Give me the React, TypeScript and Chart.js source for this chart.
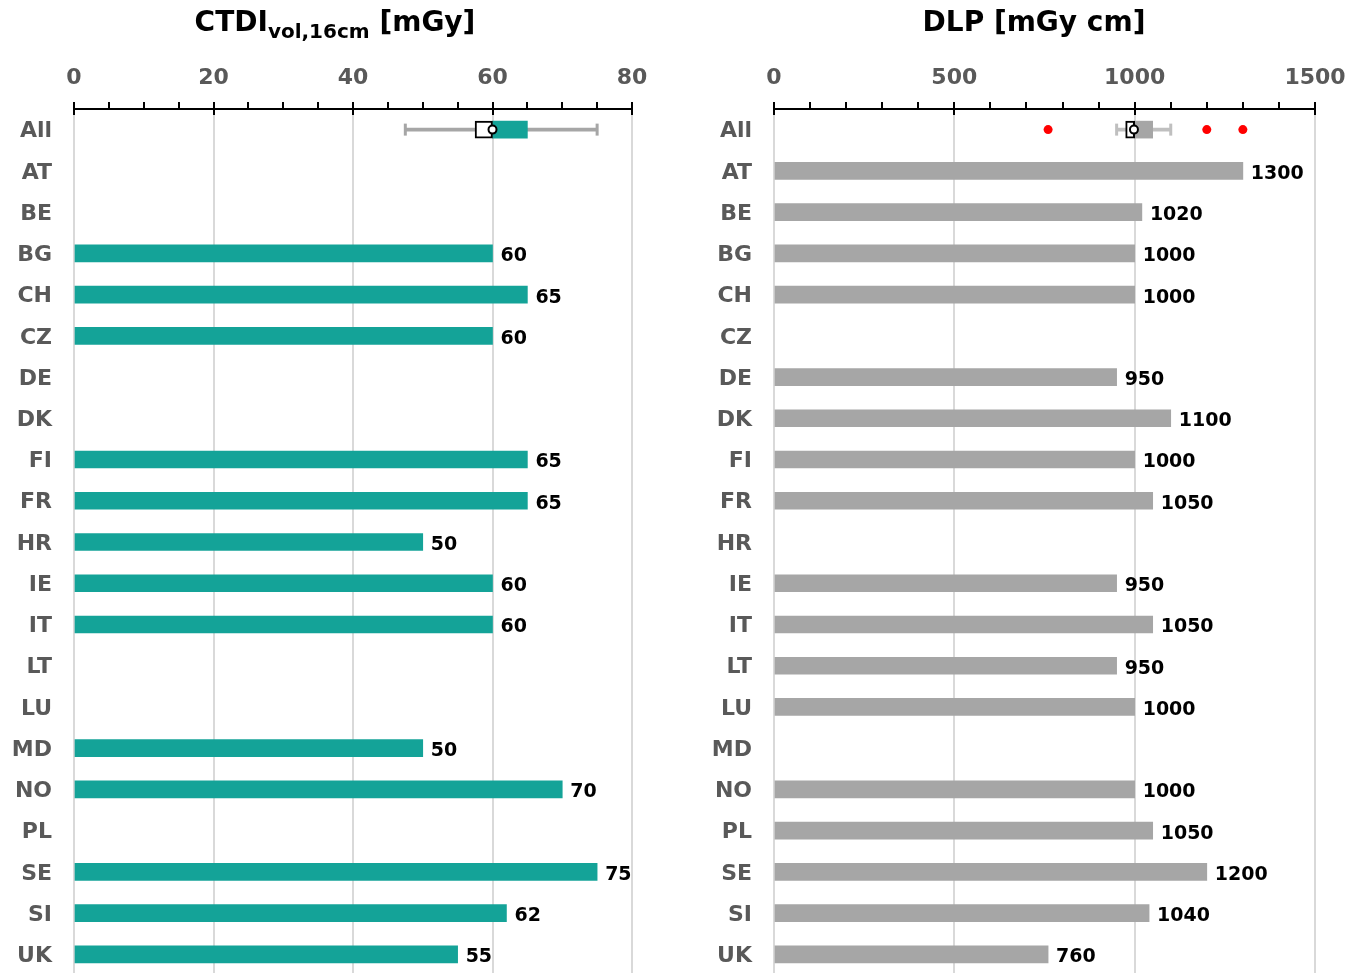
import React, { useEffect, useRef } from "react";
import { Chart, registerables } from "chart.js";

Chart.register(...registerables);

const categories = ["All", "AT", "BE", "BG", "CH", "CZ", "DE", "DK", "FI", "FR", "HR", "IE", "IT", "LT", "LU", "MD", "NO", "PL", "SE", "SI", "UK"];

const ctdiValues = [null, null, null, 60, 65, 60, null, null, 65, 65, 50, 60, 60, null, null, 50, 70, null, 75, 62, 55];
const dlpValues = [null, 1300, 1020, 1000, 1000, null, 950, 1100, 1000, 1050, null, 950, 1050, 950, 1000, null, 1000, 1050, 1200, 1040, 760];

// box plot stats for the "All" row: [min whisker, Q1, median, Q3, max whisker]
const ctdiBoxStats = [47.5, 57.5, 60, 65, 75];
const ctdiMean = 60;
const ctdiOutliers: number[] = [];

const dlpBoxStats = [950, 975, 1000, 1050, 1100];
const dlpMean = 998;
const dlpOutliers = [760, 1200, 1300];

const ctdiTicks = [0, 20, 40, 60, 80];
const dlpTicks = [0, 500, 1000, 1500];

const FONT = '"DejaVu Sans", Verdana, sans-serif';

const valueLabelPlugin = {
  id: "valueLabels",
  afterDatasetsDraw(chart: any) {
    const meta = chart.getDatasetMeta(0);
    const data = chart.data.datasets[0].data;
    const ctx = chart.ctx;
    ctx.save();
    ctx.font = `bold 19px ${FONT}`;
    ctx.fillStyle = "#000";
    ctx.textBaseline = "middle";
    ctx.textAlign = "left";
    meta.data.forEach((el: any, i: number) => {
      const v = data[i];
      if (v == null) return;
      ctx.fillText(String(v), el.x + 8, el.y + 3);
    });
    ctx.restore();
  },
};

const axisTicksPlugin = {
  id: "axisTicks",
  afterDraw(chart: any, _args: any, opts: any) {
    const sx = chart.scales.x;
    const top = chart.chartArea.top;
    const ctx = chart.ctx;
    ctx.save();
    ctx.strokeStyle = "#000";
    ctx.lineWidth = 2;
    ctx.beginPath();
    for (let v = sx.min; v <= sx.max + 1e-9; v += opts.minor) {
      const px = Math.round(sx.getPixelForValue(v));
      const r = v / opts.major;
      const isMajor = Math.abs(r - Math.round(r)) < 1e-9;
      ctx.moveTo(px, top - 7);
      ctx.lineTo(px, isMajor ? top + 6 : top);
    }
    ctx.stroke();
    ctx.restore();
  },
};

type PanelParams = {
  values: (number | null)[];
  barColor: string;
  boxColor: string;
  whiskerColor: string;
  box: number[];
  mean: number;
  outliers: number[];
  ticks: number[];
  minor: number;
  yWidth: number;
  rightPad: number;
};

function makeConfig(p: PanelParams): any {
  const onlyAll = (v: any) => categories.map((_, i) => (i === 0 ? v : null));
  const max = p.ticks[p.ticks.length - 1];
  const major = p.ticks[1] - p.ticks[0];
  return {
    type: "bar",
    data: {
      labels: categories,
      datasets: [
        {
          type: "bar",
          data: p.values,
          backgroundColor: p.barColor,
          barThickness: 17,
          grouped: false,
          order: 4,
        },
        {
          type: "bar",
          data: onlyAll([p.box[0], p.box[4]]),
          backgroundColor: p.whiskerColor,
          barThickness: 3,
          grouped: false,
          order: 6,
        },
        {
          type: "line",
          indexAxis: "y",
          data: [
            { x: p.box[0], y: "All" },
            { x: p.box[4], y: "All" },
          ],
          showLine: false,
          pointStyle: "line",
          rotation: 90,
          pointRadius: 6,
          pointHoverRadius: 6,
          pointBorderWidth: 3,
          pointBorderColor: p.whiskerColor,
          borderColor: p.whiskerColor,
          order: 5,
        },
        {
          type: "bar",
          data: onlyAll([p.box[1], p.box[2]]),
          backgroundColor: "#ffffff",
          borderColor: "#000000",
          borderWidth: 2,
          borderSkipped: false,
          barThickness: 17,
          grouped: false,
          order: 3,
        },
        {
          type: "bar",
          data: onlyAll([p.box[2], p.box[3]]),
          backgroundColor: p.boxColor,
          barThickness: 17,
          grouped: false,
          order: 3,
        },
        {
          type: "line",
          indexAxis: "y",
          data: [{ x: p.mean, y: "All" }],
          showLine: false,
          pointStyle: "circle",
          pointRadius: 4,
          pointHoverRadius: 4,
          pointBorderWidth: 2,
          pointBackgroundColor: "#ffffff",
          pointBorderColor: "#000000",
          order: 1,
        },
        {
          type: "line",
          indexAxis: "y",
          data: p.outliers.map((v) => ({ x: v, y: "All" })),
          showLine: false,
          pointStyle: "circle",
          pointRadius: 4.5,
          pointHoverRadius: 4.5,
          pointBorderWidth: 0,
          pointBackgroundColor: "#ff0000",
          pointBorderColor: "#ff0000",
          order: 1,
        },
      ],
    },
    options: {
      indexAxis: "y",
      animation: false,
      responsive: true,
      maintainAspectRatio: false,
      events: [],
      layout: { padding: { top: 0, left: 0, right: p.rightPad, bottom: 4.35 } },
      plugins: {
        legend: { display: false },
        tooltip: { enabled: false },
        axisTicks: { minor: p.minor, major },
      },
      scales: {
        x: {
          type: "linear",
          position: "top",
          min: 0,
          max,
          afterBuildTicks: (scale: any) => {
            scale.ticks = p.ticks.map((v) => ({ value: v }));
          },
          afterFit: (scale: any) => {
            scale.height = 109;
            scale.paddingLeft = 0;
            scale.paddingRight = 0;
          },
          grid: { color: "#d9d9d9", lineWidth: 2, drawTicks: false },
          border: { display: true, color: "#000000", width: 2 },
          ticks: {
            padding: 18,
            color: "#595959",
            font: { family: FONT, size: 22, weight: "bold" },
            maxRotation: 0,
            callback: (v: any) => String(v),
          },
        },
        y: {
          type: "category",
          offset: true,
          afterFit: (scale: any) => {
            scale.width = p.yWidth;
            scale.paddingTop = 0;
            scale.paddingBottom = 0;
          },
          grid: { display: false, drawTicks: false },
          border: { display: false },
          ticks: {
            padding: 22,
            labelOffset: 2,
            color: "#595959",
            font: { family: FONT, size: 22, weight: "bold" },
            autoSkip: false,
          },
        },
      },
    },
    plugins: [valueLabelPlugin, axisTicksPlugin],
  };
}

function Panel({ params, left, width }: { params: PanelParams; left: number; width: number }) {
  const ref = useRef<HTMLCanvasElement>(null);
  useEffect(() => {
    const chart = new Chart(ref.current as HTMLCanvasElement, makeConfig(params));
    return () => chart.destroy();
  }, []);
  return (
    <div style={{ position: "absolute", left, top: 0, width, height: 984 }}>
      <canvas ref={ref} />
    </div>
  );
}

export default function App() {
  const titleStyle: React.CSSProperties = {
    position: "absolute",
    top: 8,
    fontFamily: FONT,
    fontWeight: "bold",
    fontSize: 28,
    lineHeight: "28px",
    color: "#000",
    textAlign: "center",
    whiteSpace: "nowrap",
  };
  return (
    <div
      style={{
        position: "absolute",
        left: 0,
        top: 0,
        width: 1350,
        height: 973,
        overflow: "hidden",
        background: "#fff",
      }}
    >
      <Panel
        left={0}
        width={675}
        params={{
          values: ctdiValues,
          barColor: "#14a398",
          boxColor: "#14a398",
          whiskerColor: "#a6a6a6",
          box: ctdiBoxStats,
          mean: ctdiMean,
          outliers: ctdiOutliers,
          ticks: ctdiTicks,
          minor: 5,
          yWidth: 74,
          rightPad: 43,
        }}
      />
      <Panel
        left={675}
        width={675}
        params={{
          values: dlpValues,
          barColor: "#a6a6a6",
          boxColor: "#a6a6a6",
          whiskerColor: "#bfbfbf",
          box: dlpBoxStats,
          mean: dlpMean,
          outliers: dlpOutliers,
          ticks: dlpTicks,
          minor: 100,
          yWidth: 99,
          rightPad: 35,
        }}
      />
      <div style={{ ...titleStyle, left: 0, width: 670 }}>
        CTDI
        <span style={{ fontSize: 20, position: "relative", top: 7 }}>vol,16cm</span> [mGy]
      </div>
      <div style={{ ...titleStyle, left: 700, width: 668 }}>DLP [mGy cm]</div>
    </div>
  );
}
